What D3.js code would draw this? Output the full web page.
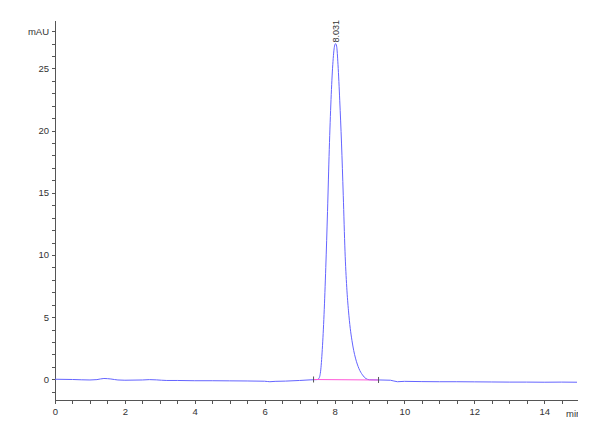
<!DOCTYPE html>
<html>
<head>
<meta charset="utf-8">
<script src="https://cdn.jsdelivr.net/npm/d3@7"></script>
<style>
  body { margin: 0; background: #fff; }
  .axis text { font-family: "Liberation Sans", Arial, sans-serif; font-size: 9.5px; fill: #333; }
  .axis path, .axis line { stroke: #555; shape-rendering: crispEdges; }
</style>
</head>
<body>
<div id="chart"></div>
<script>
// retention time (min) and absorbance (mAU)
const times = [0, 0.5, 1.0, 1.2, 1.4, 1.6, 1.8, 2.0, 2.5, 2.7, 2.9, 3.2, 3.5, 4.0, 4.5, 5.0, 5.5, 6.0, 6.15, 6.3, 6.6, 7.0, 7.3, 7.5,
  7.55, 7.6, 7.65, 7.7, 7.75, 7.8, 7.85, 7.9, 7.95, 8.0, 8.03, 8.06, 8.1, 8.15, 8.2, 8.25, 8.3, 8.35, 8.4, 8.45, 8.5, 8.55, 8.6,
  8.7, 8.8, 8.9, 9.0, 9.3, 9.6, 9.8, 10.0, 10.5, 11.0, 11.5, 12.0, 12.5, 13.0, 13.5, 14.0, 14.5, 14.94];
const signal = [0, -0.02, -0.06, -0.03, 0.06, 0.02, -0.06, -0.08, -0.06, -0.03, -0.05, -0.1, -0.1, -0.12, -0.12, -0.13, -0.14, -0.16, -0.2, -0.17, -0.15, -0.1, -0.05, -0.03,
  0.05, 0.6, 2.4, 5.2, 9.0, 13.5, 18.5, 22.5, 25.3, 26.8, 27.0, 26.8, 25.3, 22.4, 19.0, 14.8, 10.3, 7.4, 5.5, 4.1, 3.1, 2.3, 1.7,
  0.85, 0.35, 0.05, -0.04, -0.06, -0.08, -0.2, -0.17, -0.19, -0.2, -0.2, -0.21, -0.22, -0.23, -0.23, -0.24, -0.23, -0.24];

// integration baseline
const baseTimes = [7.4, 9.26];
const baseValues = [-0.02, -0.06];

const peakTime = 8.031;
const peakHeight = 27.0;

const xMajor = [0, 2, 4, 6, 8, 10, 12, 14];
const yMajor = [0, 5, 10, 15, 20, 25];

const svgWidth = 600;
const svgHeight = 440;

const svg = d3.select("#chart")
    .append("svg")
    .attr("width", svgWidth)
    .attr("height", svgHeight);

const x = d3.scaleLinear().domain([0, 14.94]).range([55, 577]);
const y = d3.scaleLinear().domain([-1.63, 28.9]).range([399.5, 20]);

svg.append("clipPath")
    .attr("id", "minclip")
    .append("rect")
    .attr("x", 0).attr("y", 0)
    .attr("width", 578).attr("height", svgHeight);

// X axis (minor every 0.5)
const xAxisG = svg.append("g")
    .attr("class", "axis")
    .attr("transform", `translate(0,${y(-1.63)})`);

xAxisG.call(d3.axisBottom(x)
    .tickValues(d3.range(0, 14.94, 0.5))
    .tickSize(4)
    .tickSizeOuter(0)
    .tickFormat(d => xMajor.includes(d) ? d : ""));
xAxisG.selectAll("text").attr("dy", "0.9em");

xAxisG.append("text")
    .attr("x", 566)
    .attr("y", 17)
    .attr("clip-path", "url(#minclip)")
    .attr("text-anchor", "start")
    .text("min");

// Y axis (minor every 1)
const yAxisG = svg.append("g")
    .attr("class", "axis")
    .attr("transform", `translate(${x(0)},0)`);

yAxisG.call(d3.axisLeft(y)
    .tickValues(d3.range(-1, 29, 1))
    .tickSize(3)
    .tickSizeOuter(0)
    .tickFormat(d => yMajor.includes(d) ? d : (d === 28 ? "mAU" : "")));

// trace
const line = d3.line()
    .x((d, i) => x(times[i]))
    .y(d => y(d))
    .curve(d3.curveMonotoneX);

svg.append("path")
    .datum(signal)
    .attr("fill", "none")
    .attr("stroke", "#6464ff")
    .attr("stroke-width", 1)
    .attr("d", line);

// baseline of the integrated peak
svg.append("line")
    .attr("x1", x(baseTimes[0])).attr("y1", y(baseValues[0]))
    .attr("x2", x(baseTimes[1])).attr("y2", y(baseValues[1]))
    .attr("stroke", "#ff5ad8")
    .attr("stroke-width", 1.2);

svg.selectAll(".baseTick")
    .data(baseTimes)
    .join("line")
    .attr("x1", d => x(d)).attr("x2", d => x(d))
    .attr("y1", (d, i) => y(baseValues[i]) - 3)
    .attr("y2", (d, i) => y(baseValues[i]) + 3)
    .attr("stroke", "#555");

// peak label
svg.append("text")
    .attr("transform", `translate(${x(peakTime) + 3},${y(peakHeight) - 1}) rotate(-90)`)
    .attr("font-family", "Liberation Sans, Arial, sans-serif")
    .attr("font-size", "9px")
    .attr("fill", "#333")
    .text(peakTime.toFixed(3));
</script>
</body>
</html>
